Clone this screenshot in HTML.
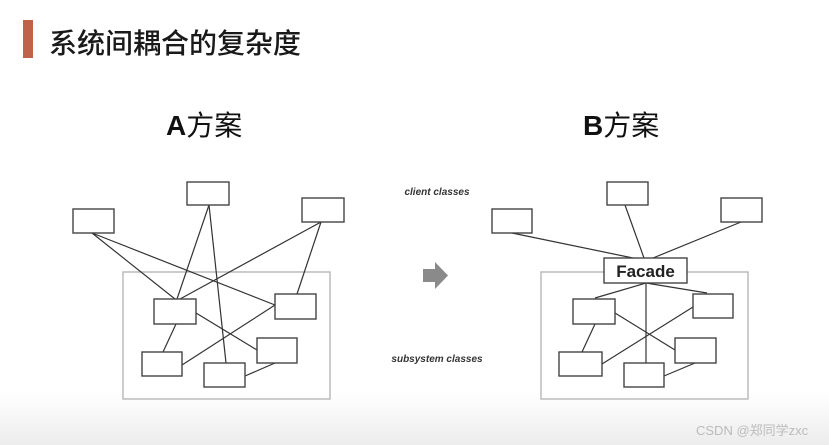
<!DOCTYPE html>
<html><head><meta charset="utf-8"><style>
html,body{margin:0;padding:0;}
body{width:829px;height:445px;overflow:hidden;background:linear-gradient(#fff 0,#fff 392px,#ececec 445px);position:relative;font-family:"Liberation Sans","Noto Sans CJK SC",sans-serif;}
svg{position:absolute;left:0;top:0;}
</style></head><body>
<svg width="829" height="445" viewBox="0 0 829 445">
<rect x="23" y="20" width="10" height="38" fill="#c0614a"/>
<text x="49" y="53" font-size="28" fill="#1a1a1a" font-weight="500" font-family="Noto Sans CJK SC, sans-serif">系统间耦合的复杂度</text>
<text x="166" y="135" font-size="28" fill="#111"><tspan font-weight="bold" font-family="Liberation Sans">A</tspan><tspan font-family="Noto Sans CJK SC">方案</tspan></text>
<text x="583" y="135" font-size="28" fill="#111"><tspan font-weight="bold" font-family="Liberation Sans">B</tspan><tspan font-family="Noto Sans CJK SC">方案</tspan></text>
<text x="437" y="195" font-size="10" font-style="italic" font-weight="bold" fill="#333" text-anchor="middle" font-family="Liberation Sans">client classes</text>
<text x="437" y="362" font-size="10" font-style="italic" font-weight="bold" fill="#333" text-anchor="middle" font-family="Liberation Sans">subsystem classes</text>
<polygon points="423,269 435,269 435,262 448,275.5 435,289 435,282 423,282" fill="#8a8a8a"/>
<g fill="none" stroke="#bbb" stroke-width="1.5">
<rect x="123" y="272" width="207" height="127"/>
<rect x="541" y="272" width="207" height="127"/>
</g>
<g stroke="#333" stroke-width="1.2" fill="none">
<line x1="92" y1="233" x2="175" y2="299"/>
<line x1="92" y1="233" x2="275" y2="305"/>
<line x1="209" y1="205" x2="177" y2="299"/>
<line x1="209" y1="205" x2="226" y2="363"/>
<line x1="321" y1="222" x2="180" y2="299"/>
<line x1="321" y1="222" x2="297" y2="294"/>
<line x1="196" y1="313" x2="257" y2="350"/>
<line x1="176" y1="324" x2="163" y2="352"/>
<line x1="275" y1="305" x2="182" y2="365"/>
<line x1="275" y1="363" x2="245" y2="376"/>
<line x1="512" y1="233" x2="633" y2="258"/>
<line x1="625" y1="205" x2="644" y2="258"/>
<line x1="741" y1="222" x2="653" y2="258"/>
<line x1="646" y1="283" x2="595" y2="298"/>
<line x1="646" y1="283" x2="707" y2="293"/>
<line x1="646" y1="283" x2="646" y2="363"/>
<line x1="615" y1="313" x2="675" y2="350"/>
<line x1="595" y1="324" x2="582" y2="352"/>
<line x1="693" y1="307" x2="602" y2="364"/>
<line x1="695" y1="363" x2="664" y2="376"/>
</g>
<g fill="#fff" stroke="#444" stroke-width="1.4">
<rect x="73" y="209" width="41" height="24"/>
<rect x="187" y="182" width="42" height="23"/>
<rect x="302" y="198" width="42" height="24"/>
<rect x="154" y="299" width="42" height="25"/>
<rect x="275" y="294" width="41" height="25"/>
<rect x="257" y="338" width="40" height="25"/>
<rect x="142" y="352" width="40" height="24"/>
<rect x="204" y="363" width="41" height="24"/>
<rect x="492" y="209" width="40" height="24"/>
<rect x="607" y="182" width="41" height="23"/>
<rect x="721" y="198" width="41" height="24"/>
<rect x="604" y="258" width="83" height="25"/>
<rect x="573" y="299" width="42" height="25"/>
<rect x="693" y="294" width="40" height="24"/>
<rect x="675" y="338" width="41" height="25"/>
<rect x="559" y="352" width="43" height="24"/>
<rect x="624" y="363" width="40" height="24"/>
</g>
<text x="645.5" y="277" font-size="17" font-weight="bold" fill="#222" text-anchor="middle" font-family="Liberation Sans">Facade</text>
<text x="696" y="435" font-size="13" fill="#bbb" font-family="Liberation Sans, Noto Sans CJK SC, sans-serif">CSDN @郑同学zxc</text>
</svg>
</body></html>
